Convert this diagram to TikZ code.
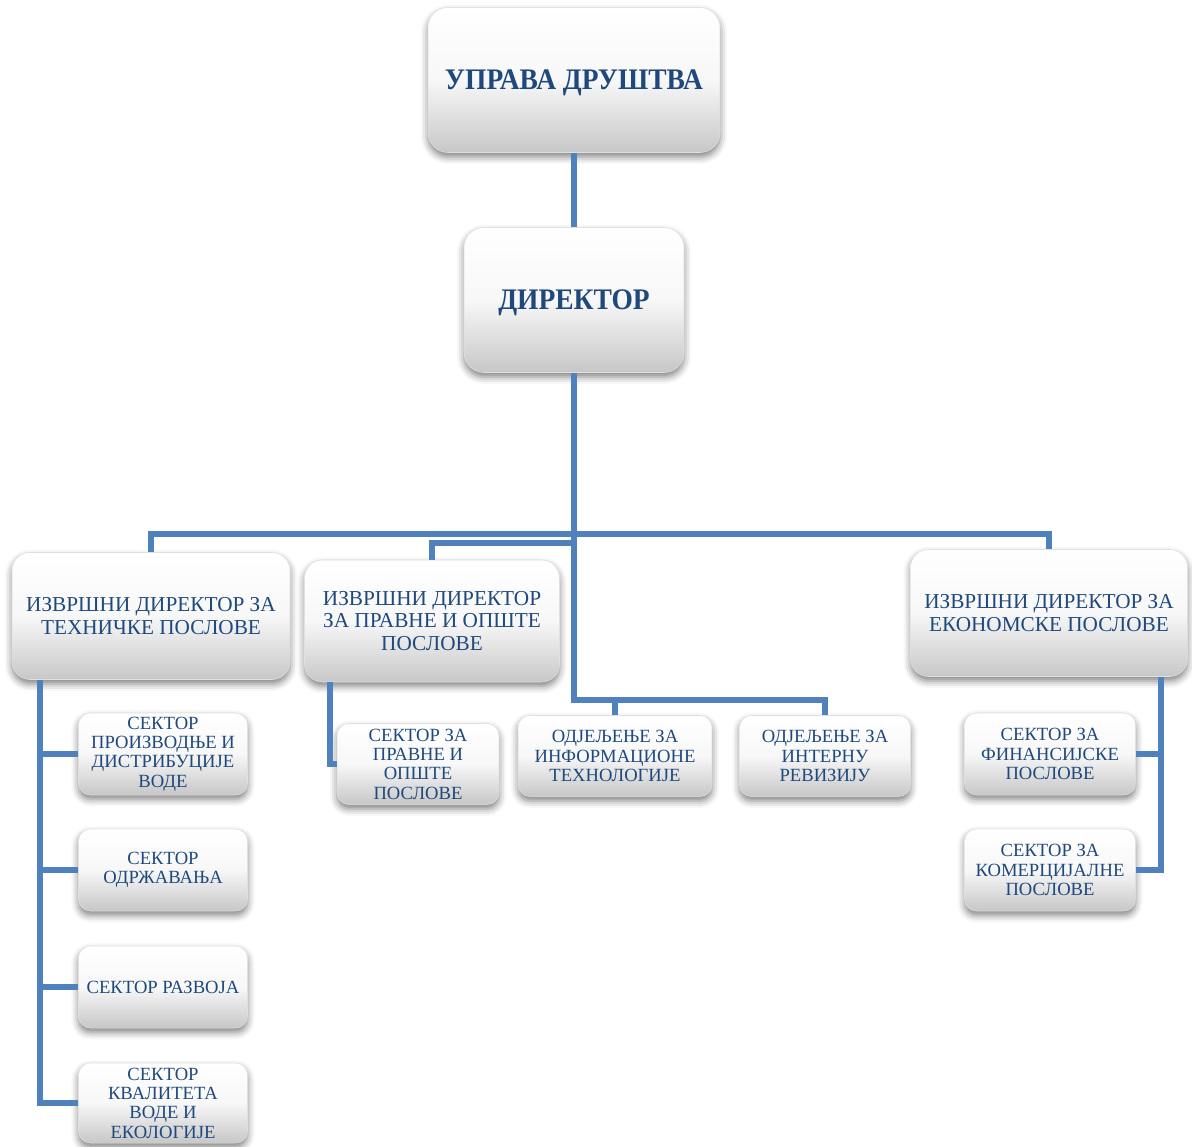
\documentclass[tikz,border=0pt]{standalone}
\usepackage{fontspec}
\setmainfont{Liberation Serif}
\newfontfamily\narrowserif[FakeStretch=0.92]{Liberation Serif}
\usepackage{tikz}
\usetikzlibrary{shadows.blur}
\definecolor{txtblue}{RGB}{31,73,125}
\definecolor{lnblue}{RGB}{79,129,189}
\tikzset{
  orgnode/.style = {rectangle, align=center, inner sep=1pt, text centered,
    text=txtblue, draw=black!12, line width=0.3pt,
    top color=white, bottom color=black!22, middle color=black!3,
    blur shadow={shadow xshift=0pt, shadow yshift=-2.5pt,
      shadow blur radius=4pt, shadow opacity=50}},% shaded box
  bigbox/.style 2 args = {orgnode, rounded corners=0.4cm, text depth=0pt,
    font=\narrowserif\fontsize{17}{19}\selectfont\bfseries,
    minimum width=#1*0.02cm, minimum height=#2*0.02cm},% top level
  midbox/.style 2 args = {orgnode, rounded corners=0.36cm,
    font=\fontsize{12.1}{12.6}\selectfont,
    minimum width=#1*0.02cm, minimum height=#2*0.02cm},% executive directors
  smbox/.style 2 args = {orgnode, rounded corners=0.24cm,
    font=\fontsize{10.6}{11}\selectfont,
    minimum width=#1*0.02cm, minimum height=#2*0.02cm},% sectors
  ln/.style = {draw=lnblue, line width=3.1pt}% connector
}
\begin{document}
\begin{tikzpicture}[x=0.02cm, y=-0.02cm]
\useasboundingbox (0,0) rectangle (1192,1146);
% top
\node [bigbox={292}{145}] (upr) at (574,80) {УПРАВА ДРУШТВА};
\node [bigbox={220}{145}] (dir) at (574,300) {ДИРЕКТОР};
% executive directors
\node [midbox={278}{127}] (teh) at (151,616) {ИЗВРШНИ ДИРЕКТОР ЗА\\ТЕХНИЧКЕ ПОСЛОВЕ};
\node [midbox={255}{122}] (prav) at (432,621) {ИЗВРШНИ ДИРЕКТОР\\ЗА ПРАВНЕ И ОПШТЕ\\ПОСЛОВЕ};
\node [midbox={277}{127}] (ekon) at (1049,613) {ИЗВРШНИ ДИРЕКТОР ЗА\\ЕКОНОМСКЕ ПОСЛОВЕ};
% sectors
\node [smbox={169}{82}] (proiz) at (163,754) {СЕКТОР\\ПРОИЗВОДЊЕ И\\ДИСТРИБУЦИЈЕ\\ВОДЕ};
\node [smbox={169}{82}] (odrz) at (163,870) {СЕКТОР\\ОДРЖАВАЊА};
\node [smbox={169}{82}] (razv) at (163,987) {СЕКТОР РАЗВОЈА};
\node [smbox={169}{80}] (kval) at (163,1103) {СЕКТОР\\КВАЛИТЕТА\\ВОДЕ И\\ЕКОЛОГИЈЕ};
\node [smbox={162}{81}] (spr) at (418,764) {СЕКТОР ЗА\\ПРАВНЕ И\\ОПШТЕ\\ПОСЛОВЕ};
\node [smbox={194}{81}] (it) at (615,756) {ОДЈЕЉЕЊЕ ЗА\\ИНФОРМАЦИОНЕ\\ТЕХНОЛОГИЈЕ};
\node [smbox={171}{81}] (rev) at (825,756) {ОДЈЕЉЕЊЕ ЗА\\ИНТЕРНУ\\РЕВИЗИЈУ};
\node [smbox={171}{82}] (fin) at (1050,754) {СЕКТОР ЗА\\ФИНАНСИЈСКЕ\\ПОСЛОВЕ};
\node [smbox={171}{82}] (kom) at (1050,870) {СЕКТОР ЗА\\КОМЕРЦИЈАЛНЕ\\ПОСЛОВЕ};
% connectors
\coordinate (bus) at (574,534);
\coordinate (bus2) at (574,543);
\coordinate (bus3) at (574,700);
\draw [ln] (upr.south) -- (dir.north);
\draw [ln] (dir.south) -- (bus3) -| (rev.north);
\draw [ln] (bus3) -| (it.north);
\draw [ln] (teh.north) |- (bus) -| (ekon.north);
\draw [ln] (prav.north) |- (bus2);
\draw [ln] (teh.south -| 40,0) |- (kval.west);
\foreach \s in {proiz,odrz,razv}
  \draw [ln] (\s.west -| 40,0) -- (\s.west);
\draw [ln] (prav.south -| 330,0) |- (spr.west);
\draw [ln] (ekon.south -| 1161,0) |- (kom.east);
\draw [ln] (fin.east) -- (fin.east -| 1161,0);
\end{tikzpicture}
\end{document}
